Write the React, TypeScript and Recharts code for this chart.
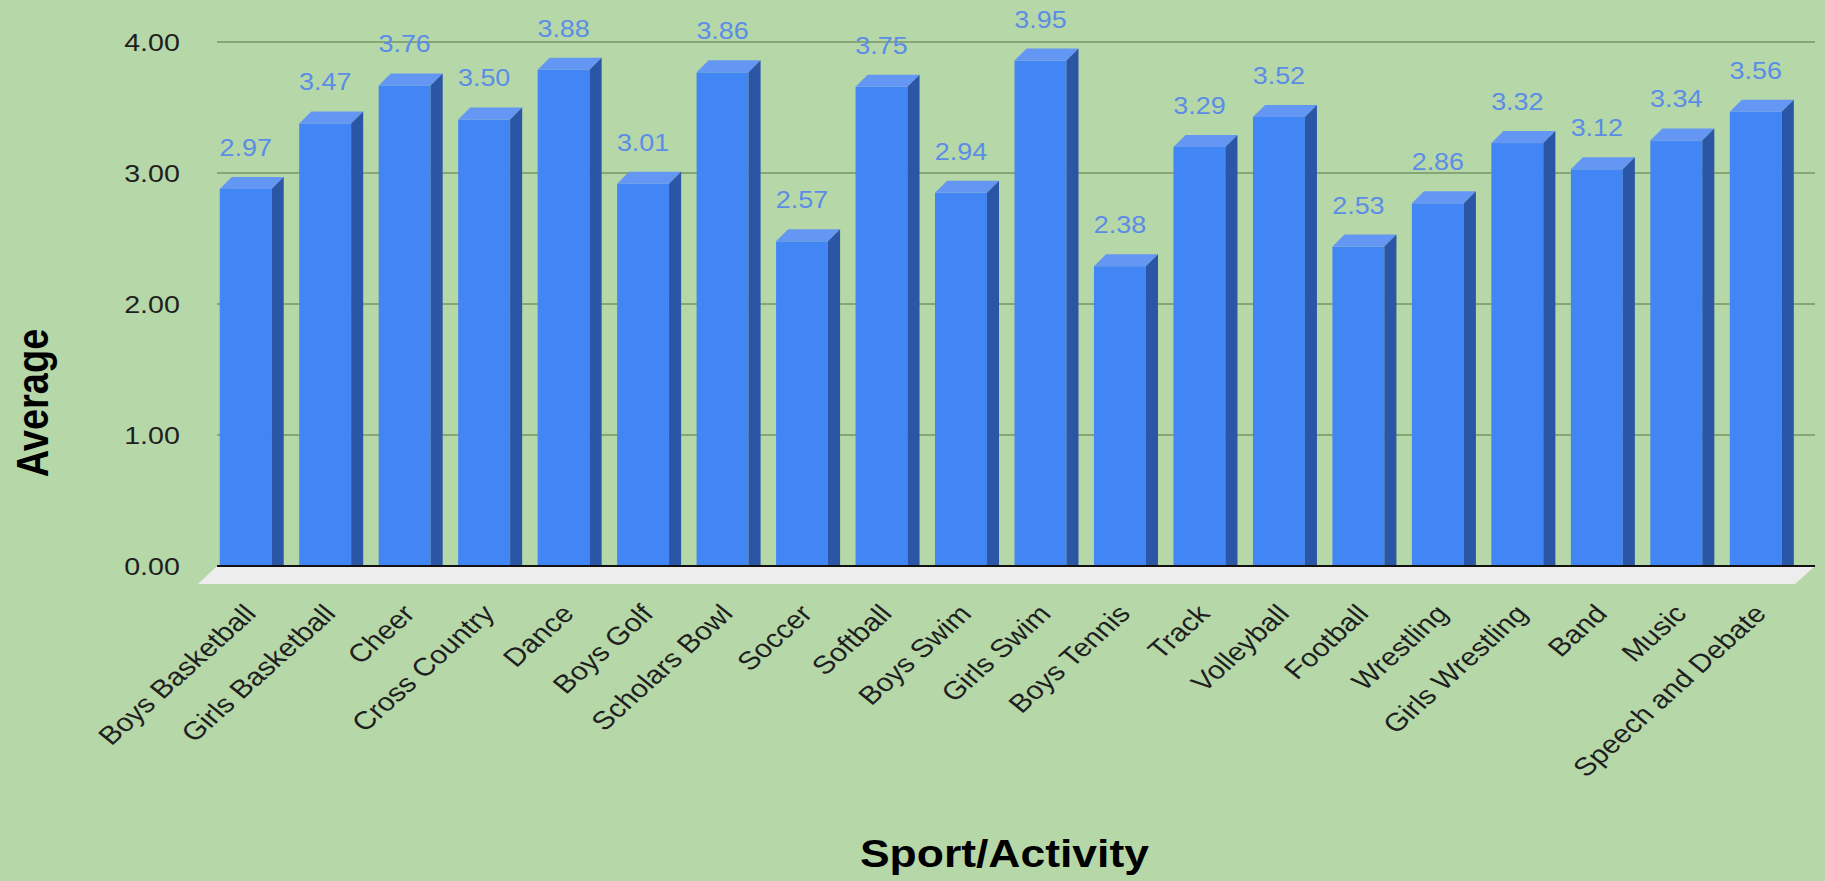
import React from "react";
import {
  BarChart,
  Bar,
  XAxis,
  YAxis,
  CartesianGrid,
  LabelList,
  ReferenceLine,
  Label,
} from "recharts";

const activities = [
  "Boys Basketball",
  "Girls Basketball",
  "Cheer",
  "Cross Country",
  "Dance",
  "Boys Golf",
  "Scholars Bowl",
  "Soccer",
  "Softball",
  "Boys Swim",
  "Girls Swim",
  "Boys Tennis",
  "Track",
  "Volleyball",
  "Football",
  "Wrestling",
  "Girls Wrestling",
  "Band",
  "Music",
  "Speech and Debate",
];
const averages = [
  2.97, 3.47, 3.76, 3.5, 3.88, 3.01, 3.86, 2.57, 3.75, 2.94, 3.95, 2.38, 3.29,
  3.52, 2.53, 2.86, 3.32, 3.12, 3.34, 3.56,
];
const yTicks = [0, 1, 2, 3, 4];

const data = activities.map((name, i) => ({ name, avg: averages[i] }));

// the source image is a bit wider than it is tall, so draw narrow and stretch
const STRETCH = 1.17;
const W = 1825 / STRETCH;
const H = 881;
const DX = 10.3; // bar depth
const DY = 12;
const FONT = "'Liberation Sans', Arial, sans-serif";

const Bar3D = (props: any) => {
  const { x, y, width, height } = props;
  const base = y + height;
  const r = x + width;
  return (
    <g>
      <rect x={x - DX} y={y + DY} width={width} height={height} fill="#4285f4" />
      <polygon
        points={`${x - DX},${y + DY} ${x},${y} ${r},${y} ${r - DX},${y + DY}`}
        fill="#6497f3"
      />
      <polygon
        points={`${r - DX},${y + DY} ${r},${y} ${r},${base} ${r - DX},${base + DY}`}
        fill="#2b55a5"
      />
    </g>
  );
};

const Floor = (props: any) => {
  const { x1, x2, y1 } = props;
  return (
    <g>
      <polygon
        points={`${x1},${y1} ${x2},${y1} ${x2 - 17},${y1 + 18} ${x1 - 16.3},${y1 + 18}`}
        fill="#ededed"
      />
      <line x1={x1} x2={x2} y1={y1} y2={y1} stroke="#111" strokeWidth={2} />
    </g>
  );
};

const ValueLabel = (props: any) => {
  const x = Number(props.x);
  const y = Number(props.y);
  const width = Number(props.width);
  return (
    <text
      x={x - DX + width / 2}
      y={y - 21}
      textAnchor="middle"
      fontSize={23}
      fontFamily={FONT}
      fill="#5b8de6"
    >
      {Number(props.value).toFixed(2)}
    </text>
  );
};

const SportTick = (props: any) => {
  const { x, y, payload } = props;
  return (
    <text
      transform={`translate(${x},${y + 49}) rotate(-46.5)`}
      textAnchor="end"
      fontSize={25.5}
      fontFamily={FONT}
      fill="#1f1f1f"
    >
      {payload.value}
    </text>
  );
};

export default function App() {
  return (
    <div
      style={{
        position: "absolute",
        left: 0,
        top: 0,
        width: 1825,
        height: H,
        background: "#b6d7a8",
        overflow: "hidden",
      }}
    >
      <div style={{ width: W, height: H, transform: `scaleX(${STRETCH})`, transformOrigin: "0 0" }}>
        <BarChart
          width={W}
          height={H}
          data={data}
          margin={{ top: 42, right: W - 1551.3, left: 35.5, bottom: 0 }}
        >
          <CartesianGrid vertical={false} stroke="#86a676" strokeWidth={2} />
          <XAxis
            dataKey="name"
            interval={0}
            height={315}
            axisLine={false}
            tickLine={false}
            tickSize={0}
            tickMargin={0}
            padding={{ left: 0.6, right: 6.6 }}
            tick={<SportTick />}
          >
            <Label
              content={() => (
                <text
                  x={858.5}
                  y={867}
                  textAnchor="middle"
                  fontSize={38}
                  fontWeight="bold"
                  fontFamily={FONT}
                  fill="#000"
                >
                  Sport/Activity
                </text>
              )}
            />
          </XAxis>
          <YAxis
            width={150}
            domain={[0, 4]}
            ticks={yTicks}
            axisLine={false}
            tickLine={false}
            tickSize={0}
            tickMargin={31.7}
            tickFormatter={(v: number) => v.toFixed(2)}
            tick={{ fontSize: 24.5, fontFamily: FONT, fill: "#1f1f1f" }}
          >
            <Label
              content={() => (
                <text
                  transform="translate(41,403) rotate(-90)"
                  textAnchor="middle"
                  fontSize={38}
                  fontWeight="bold"
                  fontFamily={FONT}
                  fill="#000"
                >
                  Average
                </text>
              )}
            />
          </YAxis>
          <ReferenceLine y={0} shape={<Floor />} />
          <Bar dataKey="avg" barSize={44.4} shape={<Bar3D />} isAnimationActive={false}>
            <LabelList dataKey="avg" content={<ValueLabel />} />
          </Bar>
        </BarChart>
      </div>
    </div>
  );
}
